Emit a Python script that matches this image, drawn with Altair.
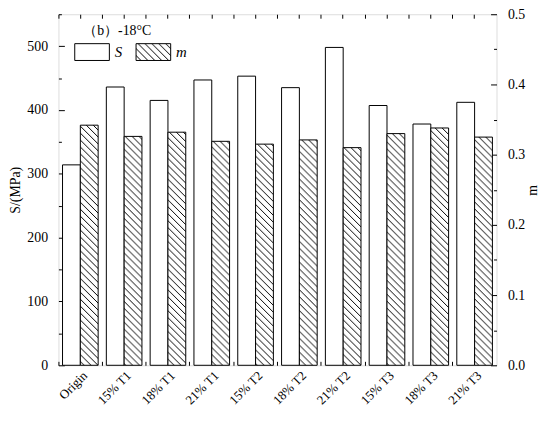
import altair as alt
import pandas as pd
import sys
import altair.utils.html as _alt_html

# ---------------- data ----------------
categories = ["Origin", "15% T1", "18% T1", "21% T1", "15% T2",
              "18% T2", "21% T2", "15% T3", "18% T3", "21% T3"]
S_values = [314, 436, 415, 447, 453, 435, 498, 407, 378, 412]
m_values = [0.342, 0.326, 0.332, 0.319, 0.315, 0.321, 0.310, 0.330, 0.338, 0.325]
series_names = ["S", "m"]
panel_label = "\u2009（b）-18°C"

rows = []
for c, s, m in zip(categories, S_values, m_values):
    rows.append({"category": c, "series": "S", "value": s})
    rows.append({"category": c, "series": "m", "value": m})
df = pd.DataFrame(rows)

FONT = "Liberation Serif"

# hatch pattern definition injected into the page
PATTERN_DEFS = (
    '<svg width="0" height="0" style="position:absolute">'
    '<defs><pattern id="hatch" patternUnits="userSpaceOnUse" width="7" height="7">'
    '<rect width="7" height="7" fill="white"/>'
    '<path d="M-1,-1 L8,8 M-1,6 L1,8 M6,-1 L8,1" stroke="black" stroke-width="1"/>'
    '</pattern></defs></svg>'
)


def _inject(html):
    if "hatch" in html and "<pattern" in html:
        return html
    if "<body>" in html:
        return html.replace("<body>", "<body>\n" + PATTERN_DEFS, 1)
    return PATTERN_DEFS + html


_orig_spec_to_html = _alt_html.spec_to_html


def _spec_to_html_with_pattern(*args, **kwargs):
    return _inject(_orig_spec_to_html(*args, **kwargs))


_alt_html.spec_to_html = _spec_to_html_with_pattern
for _mod in list(sys.modules.values()):
    try:
        if getattr(_mod, "spec_to_html", None) is _orig_spec_to_html:
            setattr(_mod, "spec_to_html", _spec_to_html_with_pattern)
    except Exception:
        pass

x_scale = alt.Scale(domain=categories, paddingInner=0, paddingOuter=0)
xoff = alt.XOffset("series:N", scale=alt.Scale(domain=series_names, paddingInner=0, paddingOuter=0.23))
fill = alt.Fill(
    "series:N",
    scale=alt.Scale(domain=series_names, range=["white", "url(#hatch)"]),
    legend=alt.Legend(
        title=panel_label,
        orient="none",
        legendX=25,
        legendY=10,
        direction="horizontal",
        titleFont=FONT,
        titleFontSize=14,
        titleFontWeight="normal",
        titleColor="black",
        titlePadding=5,
        labelFont=FONT,
        labelFontStyle="italic",
        labelFontSize=15,
        labelColor="black",
        labelOffset=14,
        columnPadding=11,
        # 35 x 17 px rectangle drawn on a 17 px layout slot
        symbolType="M-2.06,-1H2.06V1H-2.06Z",
        symbolSize=289,
        symbolStrokeColor="black",
        symbolStrokeWidth=1,
        symbolOpacity=1,
    ),
)


def x_axis_enc(axis):
    return alt.X("category:N", sort=categories, scale=x_scale, title=None, axis=axis)


def tick_axis(orient, band_pos):
    return alt.Axis(orient=orient, bandPosition=band_pos, labels=False,
                    tickSize={"expr": "-4"}, tickColor="black", domain=False, grid=False)


base = alt.Chart(df)

s_layer = base.transform_filter(alt.datum.series == "S").mark_bar(
    stroke="black", strokeWidth=1
).encode(
    x=x_axis_enc(alt.Axis(
        orient="bottom", bandPosition=0.5, labelAngle=-45, labelAlign="right",
        labelBaseline="middle", labelOffset=5, labelPadding=8,
        labelFont=FONT, labelFontSize=13, labelColor="black",
        ticks=False, domain=False, grid=False,
    )),
    xOffset=xoff,
    y=alt.Y(
        "value:Q", scale=alt.Scale(domain=[0, 550], nice=False, zero=True),
        axis=alt.Axis(
            orient="left", title="S/(MPa)", values=list(range(0, 551, 50)),
            labelExpr="datum.value % 100 == 0 ? datum.label : ''",
            tickSize={"expr": "datum.value % 100 == 0 ? -6 : -3"},
            tickColor="black", domain=False, grid=False,
            labelFont=FONT, labelFontSize=14, labelColor="black", labelPadding=17,
            titleFont=FONT, titleFontSize=14, titleFontWeight="normal", titleColor="black",
            titlePadding=4,
        ),
    ),
    fill=fill,
)

m_layer = base.transform_filter(alt.datum.series == "m").mark_bar(
    stroke="black", strokeWidth=1
).encode(
    x=x_axis_enc(tick_axis("top", 0)),
    xOffset=xoff,
    y=alt.Y(
        "value:Q", scale=alt.Scale(domain=[0, 0.5], nice=False, zero=True),
        axis=alt.Axis(
            orient="right", title="m", format=".1f",
            values=[0, 0.05, 0.1, 0.15, 0.2, 0.25, 0.3, 0.35, 0.4, 0.45, 0.5],
            labelExpr="abs(datum.value*10 - round(datum.value*10)) < 0.01 ? datum.label : ''",
            tickSize={"expr": "abs(datum.value*10 - round(datum.value*10)) < 0.01 ? -6 : -3"},
            tickColor="black", domain=False, grid=False,
            labelFont=FONT, labelFontSize=14, labelColor="black", labelPadding=17,
            titleFont=FONT, titleFontSize=14, titleFontWeight="normal", titleColor="black",
            titleAngle=270, titlePadding=15,
        ),
    ),
    fill=fill,
)

# invisible layers that only carry the extra tick rows (group boundaries / centres)
bottom_ticks = base.transform_filter(alt.datum.series == "S").mark_bar(opacity=0).encode(
    x=x_axis_enc(tick_axis("bottom", 0)),
    y=alt.Y("value:Q", axis=None, scale=alt.Scale(domain=[0, 550], nice=False)),
)
top_center_ticks = base.transform_filter(alt.datum.series == "S").mark_bar(opacity=0).encode(
    x=x_axis_enc(tick_axis("top", 0.5)),
    y=alt.Y("value:Q", axis=None, scale=alt.Scale(domain=[0, 550], nice=False)),
)

chart = alt.layer(bottom_ticks, top_center_ticks, s_layer, m_layer).resolve_scale(
    y="independent"
).resolve_axis(
    x="independent", y="independent"
).properties(
    width=443, height=355,
    autosize=alt.AutoSizeParams(type="none"),
    padding={"left": 51, "top": 4, "right": 46, "bottom": 52},
).configure_view(
    stroke="black", strokeWidth=1
).configure(
    font=FONT, background="white"
)

chart.save("out.html", embed_options={"renderer": "svg", "actions": False})

# make sure the hatch pattern is present in the written page
with open("out.html", encoding="utf-8") as _f:
    _page = _f.read()
_fixed = _inject(_page)
if _fixed != _page:
    with open("out.html", "w", encoding="utf-8") as _f:
        _f.write(_fixed)
